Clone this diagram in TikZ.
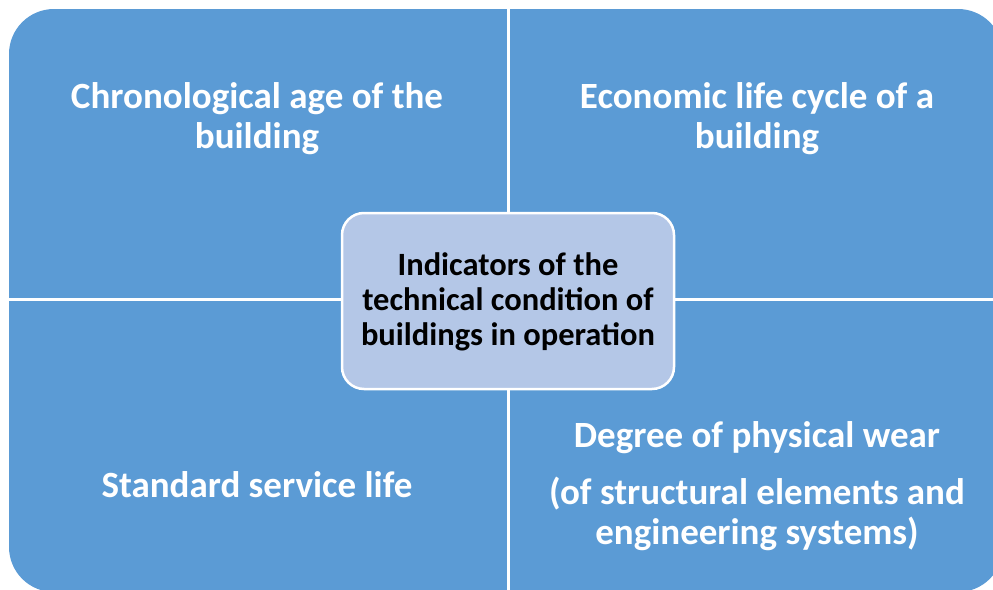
\documentclass[tikz,border=0pt]{standalone}
\usepackage{fontspec}
\setmainfont{Carlito}

\definecolor{quadblue}{HTML}{5B9BD5}
\definecolor{hubblue}{HTML}{B4C7E7}

\begin{document}
\begin{tikzpicture}[x=1pt, y=-1pt, font=\bfseries,
    quad/.style={text=white, align=center, font=\fontsize{37}{40}\selectfont\bfseries},
    hub/.style={text=black, align=center, font=\fontsize{32.5}{35}\selectfont\bfseries}]
  \useasboundingbox (0,0) rectangle (993,589);
  \coordinate (NW) at (9,9);      % outer panel
  \coordinate (SE) at (1003,592);
  \coordinate (M) at (508,299);   % where the panels meet
  \fill[quadblue, rounded corners=45] (NW) rectangle (SE);
  % white gaps between the four panels
  \draw[white, line width=3] (M |- NW) -- (M |- SE);
  \draw[white, line width=3] (M -| NW) -- (M -| SE);
  % centre box
  \draw[hubblue, fill=hubblue, rounded corners=22] (342,213) rectangle (674,389);
  \draw[white, line width=2.5, rounded corners=22] (342,213) rectangle (674,389);
  \node[hub] (hub) at (508,302) {Indicators of the\\technical condition of\\buildings in operation};
  % panel texts
  \node[quad] (age) at (257,119) {Chronological age of the\\building};
  \node[quad] (cycle) at (757,119) {Economic life cycle of a\\building};
  \node[quad] (norm) at (257,485) {Standard service life};
  \node[quad] (wear) at (757,486) {Degree of physical wear\\[17pt](of structural elements and\\engineering systems)};
\end{tikzpicture}
\end{document}
